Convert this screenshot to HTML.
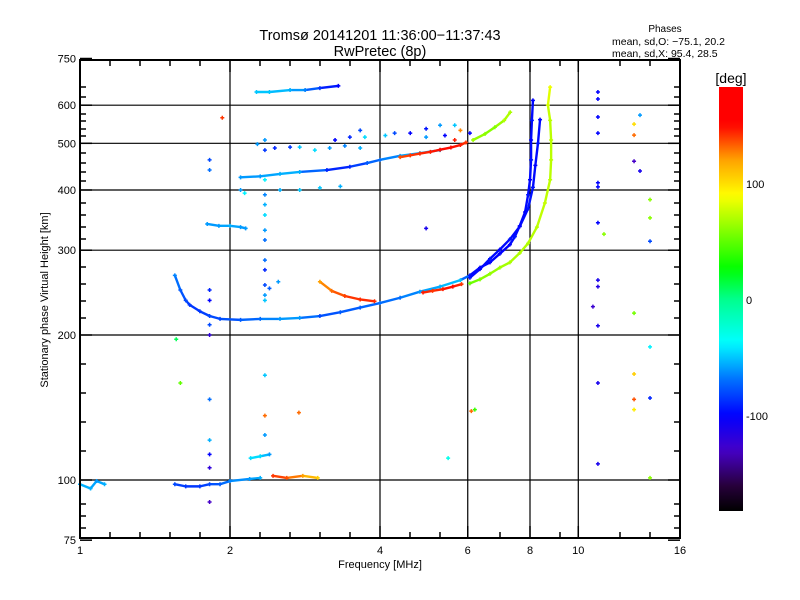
<!DOCTYPE html>
<html><head><meta charset="utf-8"><style>
body{margin:0;background:#fff;}
svg{display:block;font-family:"Liberation Sans",sans-serif;}
</style></head><body>
<svg id="chart" width="800" height="600" viewBox="0 0 800 600">
<rect width="800" height="600" fill="#fff"/>
<text x="380" y="40" font-size="14.5" text-anchor="middle">Tromsø 20141201 11:36:00−11:37:43</text>
<text x="380" y="56" font-size="14.5" text-anchor="middle">RwPretec (8p)</text>
<text x="665" y="32" font-size="10" text-anchor="middle">Phases</text>
<text x="612" y="45" font-size="10.5">mean, sd,O: −75.1, 20.2</text>
<text x="612" y="57" font-size="10.5">mean, sd,X:  95.4, 28.5</text>
<g id="grid"></g>
<g id="marks"></g>
<g id="axes"></g>
<text x="380" y="568" font-size="11" text-anchor="middle">Frequency [MHz]</text>
<text transform="translate(48,300) rotate(-90)" font-size="11" text-anchor="middle">Stationary phase Virtual Height [km]</text>
<defs><linearGradient id="cbg" x1="0" y1="1" x2="0" y2="0"></linearGradient></defs>
<text x="731" y="83" font-size="14" text-anchor="middle">[deg]</text>
<rect x="719" y="87" width="24" height="424" fill="url(#cbg)"/>
<g id="cbticks"></g>
</svg>
<script>
// ---- data ----
const xTicks=[1,2,4,6,8,10,16];
const yTicks=[75,100,200,300,400,500,600,750];
const xGrid=[2,4,6,8,10];
const yGrid=[100,200,300,400,500,600];
const cbTicks=[100,0,-100];

const oF=[1.55,1.59,1.63,1.66,1.74,1.82,1.91,2.1,2.3,2.52,2.76,3.03,3.33,3.65,4.0,4.39,4.81,5.28,5.8,6.06,6.35,6.65,6.96,7.29,7.46,7.63,7.82,7.93,8.0,8.04,8.04,8.07,8.11];
const oH=[266,248,236,231,224,219,216,215,216,216,217,219,223,228,233,239,246,252,260,266,276,283,295,308,320,337,360,391,420,462,508,558,614];
const oP=[-65,-75,-80,-85,-85,-80,-80,-75,-70,-60,-60,-80,-75,-75,-70,-70,-60,-55,-50,-95,-100,-100,-100,-100,-95,-100,-100,-95,-100,-95,-100,-95,-100];

const o2F=[6.06,6.35,6.65,6.96,7.29,7.63,7.93,8.11,8.2,8.3,8.38];
const o2H=[263,274,288,301,316,336,366,405,450,500,560];
const o2P=[-95,-100,-95,-100,-95,-100,-95,-95,-100,-95,-100];

const x1F=[3.03,3.2,3.4,3.65,3.9];
const x1H=[258,247,241,237,235];
const x1P=[120,130,138,142,142];
const x2F=[4.88,5.1,5.35,5.6,5.83];
const x2H=[245,247,249,252,255];
const x2P=[145,140,145,148,140];
const x3F=[6.06,6.35,6.65,6.96,7.29,7.63,7.93,8.26,8.57,8.78,8.82,8.82,8.78,8.69,8.78];
const x3H=[256,261,268,276,283,296,310,335,376,420,462,508,558,600,654];
const x3P=[50,58,62,65,68,70,70,72,75,72,72,72,72,78,85];

const fa1F=[1.8,1.9,2.0,2.1,2.15];
const fa1H=[340,337,337,335,333];
const fa1P=[-60,-60,-55,-60,-60];
const fa2F=[2.1,2.3,2.52,2.76,3.13,3.48,3.77,4,4.39,4.81,5.28];
const fa2H=[425,427,432,436,440,447,455,462,471,477,484];
const fa2P=[-60,-60,-55,-55,-90,-90,-75,-70,-60,-55,-55];
const fa3F=[4.39,4.6,4.81,5.05,5.28,5.55,5.8,5.95];
const fa3H=[468,472,476,480,485,490,496,502];
const fa3P=[135,140,142,145,148,148,145,140];
const fa4F=[6.15,6.5,6.8,7.1,7.3];
const fa4H=[508,523,540,558,580];
const fa4P=[65,60,58,70,68];
const topF=[2.26,2.4,2.64,2.83,3.03,3.3];
const topH=[639,639,645,645,651,658];
const topP=[-50,-50,-55,-65,-85,-100];

const b1F=[1.0,1.05,1.08,1.12];
const b1H=[98,96,99.5,98];
const b1P=[-55,-55,-60,-55];
const b2F=[1.55,1.63,1.74,1.82,1.91,2.0,2.19,2.3];
const b2H=[98,97,97,98,98,99.5,100.5,101];
const b2P=[-80,-85,-85,-80,-75,-65,-60,-55];
const b3F=[2.2,2.3,2.4];
const b3H=[111,112,113];
const b3P=[-45,-45,-60];
const b4F=[2.44,2.6,2.8,3.0];
const b4H=[102,101,102,101];
const b4P=[140,135,120,105];

const sF=[1.82,1.82,1.82,1.82,1.82,1.82,1.82,1.82,1.82,1.82,1.82,
 2.35,2.35,2.35,2.35,2.35,2.35,2.35,2.35,2.35,2.35,2.35,2.35,2.35,2.35,2.35,2.35,
 2.27,2.46,2.64,2.76,2.96,3.17,3.4,3.65,3.25,3.48,3.73,4.1,4.28,4.6,4.95,5.28,5.65,5.4,5.8,6.06,3.65,4.95,5.65,
 2.1,2.52,2.76,3.03,3.33,2.14,1.93,
 10.95,10.95,10.95,10.95,13.3,12.94,12.94,12.94,13.3,10.95,10.95,13.93,13.93,10.95,11.26,13.93,10.95,10.95,10.7,12.94,10.95,13.93,12.94,10.95,12.94,13.93,12.94,10.95,13.93,
 1.56,1.59,4.95,2.75,6.2,5.48,6.1,2.4,2.5];
const sH=[462,440,248,236,210,200,147,121,113,106,90,
 508,484,420,391,373,355,330,315,286,273,254,242,236,165,136,124,
 498,489,491,491,484,489,494,489,508,515,515,519,525,525,536,545,545,519,532,525,532,515,508,
 400,400,400,404,407,394,565,
 639,618,567,525,572,548,520,459,438,414,406,382,350,342,324,313,260,252,229,222,209,189,166,159,147,148,140,108,101,
 196,159,333,138,140,111,139,250,258];
const sP=[-80,-70,-90,-100,-80,-120,-70,-55,-100,-120,-130,
 -60,-85,-40,-65,-55,-45,-60,-70,-70,-90,-80,-60,-50,-50,130,-60,
 -60,-90,-85,-50,-45,-60,-65,-55,-100,-90,-45,-50,-80,-100,-95,-60,-50,-100,125,-100,-80,-60,145,
 -60,-55,-50,-50,-55,-40,140,
 -100,-100,-100,-100,-60,100,130,-130,-110,-100,-100,60,60,-100,60,-80,-110,-115,-125,55,-110,-40,105,-110,135,-90,95,-110,60,
 10,50,-110,130,40,-30,130,-75,-60];

// ---- scales ----
const X0=80,XPO=150,Y100=480,YPO=145;
const xs=f=>X0+XPO*Math.log2(f);
const ys=h=>Y100-YPO*Math.log2(h/100);
const cs=p=>300-p*1.16;
const stops=[[-182,[0,0,0]],[-160,[40,0,60]],[-130,[70,0,200]],[-100,[0,0,255]],[-70,[0,110,255]],[-37,[0,255,255]],[0,[0,255,140]],[26,[0,255,0]],[89,[255,255,0]],[120,[255,160,0]],[150,[255,0,0]],[182,[255,0,0]]];
function col(p){
 for(let i=0;i<stops.length-1;i++){const a=stops[i],b=stops[i+1];
  if(p<=b[0]){const t=Math.max(0,(p-a[0])/(b[0]-a[0]));return 'rgb('+a[1].map((v,k)=>Math.round(v+(b[1][k]-v)*t)).join(',')+')';}}
 return 'rgb(255,0,0)';}
const NS='http://www.w3.org/2000/svg';
function mk(tag,at,parent){const e=document.createElementNS(NS,tag);for(const k in at)e.setAttribute(k,at[k]);parent.appendChild(e);return e;}

// grid
const g=document.getElementById('grid');
xGrid.forEach(v=>{const l=mk('line',{x1:xs(v),x2:xs(v),y1:60,y2:538,stroke:'#000','stroke-width':1.2},g);

});
yGrid.forEach(v=>{const l=mk('line',{x1:80,x2:680,y1:ys(v),y2:ys(v),stroke:'#000','stroke-width':1.2},g);

});

// marks
const m=document.getElementById('marks');
function plus(x,y,c){const p=mk('path',{d:`M${x-2},${y}h4M${x},${y-2}v4`,stroke:c,'stroke-width':1.5,fill:'none'},m);

}
function trace(F,H,P,name){
 for(let i=0;i<F.length-1;i++){const l=mk('line',{x1:xs(F[i]),y1:ys(H[i]),x2:xs(F[i+1]),y2:ys(H[i+1]),stroke:col((P[i]+P[i+1])/2),'stroke-width':2.4,'stroke-linecap':'round'},m);
 
 }
 for(let i=0;i<F.length;i++)plus(xs(F[i]),ys(H[i]),col(P[i]));
}
trace(oF,oH,oP,'o-trace');trace(o2F,o2H,o2P,'o-trace-2');
trace(x1F,x1H,x1P,'x-trace-1');trace(x2F,x2H,x2P,'x-trace-2');trace(x3F,x3H,x3P,'x-trace-3');
trace(fa1F,fa1H,fa1P,'f-trace-1');trace(fa2F,fa2H,fa2P,'f-trace-2');trace(fa3F,fa3H,fa3P,'f-trace-3');trace(fa4F,fa4H,fa4P,'f-trace-4');
trace(topF,topH,topP,'top-trace');
trace(b1F,b1H,b1P,'e-trace-1');trace(b2F,b2H,b2P,'e-trace-2');trace(b3F,b3H,b3P,'e-trace-3');trace(b4F,b4H,b4P,'e-trace-4');
for(let i=0;i<sF.length;i++)plus(xs(sF[i]),ys(sH[i]),col(sP[i]));

// axes
const a=document.getElementById('axes');
const box=mk('rect',{x:80,y:60,width:600,height:478,fill:'none',stroke:'#000','stroke-width':2},a);


xTicks.forEach(v=>{const t=mk('text',{x:xs(v),y:554,'font-size':11,'text-anchor':'middle'},a);t.textContent=v;


mk('line',{x1:xs(v),x2:xs(v),y1:538,y2:526,stroke:'#000','stroke-width':1.5},a);
mk('line',{x1:xs(v),x2:xs(v),y1:60,y2:72,stroke:'#000','stroke-width':1.5},a);});
yTicks.forEach(v=>{const t=mk('text',{x:76,y:ys(v)+4,'font-size':11,'text-anchor':'end'},a);t.textContent=v;


mk('line',{x1:80,x2:92,y1:ys(v),y2:ys(v),stroke:'#000','stroke-width':1.5},a);
mk('line',{x1:668,x2:680,y1:ys(v),y2:ys(v),stroke:'#000','stroke-width':1.5},a);});
[110,140,170,200,260,290,320,350,410,440,500,560,620,650].forEach(x=>{
mk('line',{x1:x,x2:x,y1:538,y2:532,stroke:'#000','stroke-width':1.5},a);
mk('line',{x1:x,x2:x,y1:60,y2:66,stroke:'#000','stroke-width':1.5},a);});
[87,97,114,121,129,136,153,163,172,181,203,215,227,239,267,284,301,318,364,393,422,451,504,516,528].forEach(y=>{
mk('line',{x1:80,x2:86,y1:y,y2:y,stroke:'#000','stroke-width':1.5},a);
mk('line',{x1:674,x2:680,y1:y,y2:y,stroke:'#000','stroke-width':1.5},a);});

// colorbar
const gr=document.getElementById('cbg');
for(let p=-182;p<=182;p+=7){mk('stop',{offset:((p+182)/364).toFixed(3),'stop-color':col(p)},gr);}
const cb=document.getElementById('cbticks');
cbTicks.forEach(v=>{const t=mk('text',{x:746,y:cs(v)+4,'font-size':11},cb);t.textContent=v;

});
</script>
</body></html>
